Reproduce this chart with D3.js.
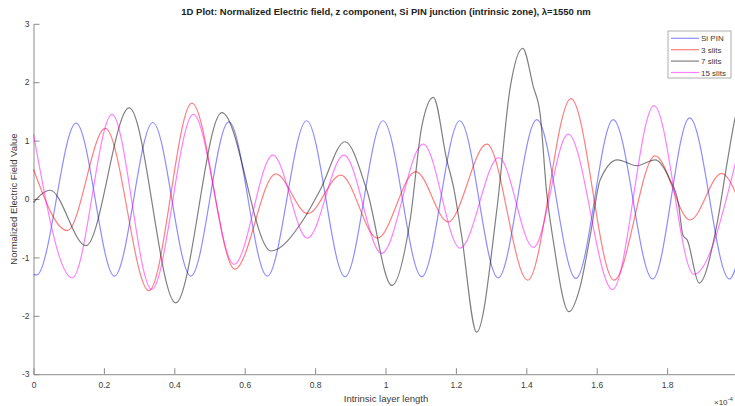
<!DOCTYPE html>
<html>
<head>
<meta charset="utf-8">
<script src="https://cdn.jsdelivr.net/npm/d3@7"></script>
<style>
  body { margin: 0; background: #fff; }
  svg { display: block; font-family: "Liberation Sans", Arial, sans-serif; }
</style>
</head>
<body>
<svg width="735" height="406"></svg>
<script>
// x values are in units of 1e-4 (axis shows x10^-4)
const siX = [0, 0.009, 0.121, 0.230, 0.339, 0.447, 0.555, 0.664, 0.776, 0.885, 0.993, 1.103, 1.211, 1.320, 1.430, 1.541, 1.647, 1.759, 1.864, 1.977, 2.0];
const siY = [-1.29, -1.30, 1.30, -1.32, 1.31, -1.32, 1.32, -1.32, 1.34, -1.33, 1.34, -1.33, 1.34, -1.35, 1.36, -1.36, 1.36, -1.37, 1.39, -1.37, -1.08];

const slit3X = [0, 0.096, 0.204, 0.328, 0.450, 0.572, 0.688, 0.779, 0.873, 0.977, 1.086, 1.178, 1.288, 1.404, 1.527, 1.649, 1.766, 1.865, 1.955, 2.0];
const slit3Y = [0.51, -0.54, 1.21, -1.57, 1.64, -1.20, 0.43, -0.25, 0.41, -0.67, 0.47, -0.39, 0.94, -1.39, 1.72, -1.39, 0.74, -0.36, 0.44, 0.03];

const slit7X = [0, 0.047, 0.149, 0.272, 0.404, 0.535, 0.675, 0.766, 0.814, 0.885, 0.947, 1.018, 1.070, 1.103, 1.136, 1.174, 1.193, 1.216, 1.259, 1.316, 1.354, 1.390, 1.420, 1.439, 1.458, 1.477, 1.521, 1.553, 1.581, 1.610, 1.659, 1.714, 1.766, 1.808, 1.832, 1.845, 1.857, 1.891, 1.941, 1.970, 1.993, 2.0];
const slit7Y = [-0.06, 0.15, -0.80, 1.56, -1.78, 1.48, -0.89, -0.36, 0.15, 0.98, 0.15, -1.48, -0.36, 1.24, 1.74, 0.67, 0.21, -0.62, -2.28, -0.20, 1.90, 2.58, 1.92, 1.47, 0.10, -0.73, -1.93, -1.50, -0.65, 0.33, 0.67, 0.57, 0.67, 0.33, -0.07, -0.62, -0.70, -1.44, -0.45, 0.60, 1.38, 1.55];

const slit15X = [0, 0.110, 0.223, 0.336, 0.454, 0.570, 0.680, 0.778, 0.882, 0.989, 1.107, 1.212, 1.322, 1.420, 1.519, 1.645, 1.763, 1.876, 2.0];
const slit15Y = [1.11, -1.35, 1.45, -1.55, 1.45, -1.12, 0.75, -0.67, 0.75, -0.93, 0.94, -0.84, 0.71, -0.83, 1.11, -1.55, 1.60, -1.29, 0.76];

const seriesNames = ['Si PIN', '3 slits', '7 slits', '15 slits'];
const seriesColors = ['rgba(0,0,255,0.45)', 'rgba(255,0,0,0.5)', 'rgba(0,0,0,0.5)', 'rgba(255,0,255,0.5)'];
const xTicks = [0, 0.2, 0.4, 0.6, 0.8, 1, 1.2, 1.4, 1.6, 1.8];
const yTicks = [-3, -2, -1, 0, 1, 2, 3];

const seriesData = [[siX, siY], [slit3X, slit3Y], [slit7X, slit7Y], [slit15X, slit15Y]]
  .map(([xs, ys]) => xs.map((x, i) => ({x: x, y: ys[i]})));

const plotLeft = 33.5, plotRight = 737.5, plotTop = 23.8, plotBottom = 374.2;

const xScale = d3.scaleLinear().domain([0, 2]).range([plotLeft, plotRight]);
const yScale = d3.scaleLinear().domain([-3, 3]).range([plotBottom, plotTop]);

const svg = d3.select('svg');
const axisColor = '#8c8c8c';
const textColor = '#3a3a3a';

// axes (MATLAB style: ticks inside, no box)
const xAxis = svg.append('g')
  .attr('transform', `translate(0,${plotBottom})`)
  .call(d3.axisBottom(xScale).tickValues(xTicks).tickSizeInner(-6).tickSizeOuter(0).tickPadding(8).tickFormat(d => String(d)));
const yAxis = svg.append('g')
  .attr('transform', `translate(${plotLeft},0)`)
  .call(d3.axisLeft(yScale).tickValues(yTicks).tickSizeInner(-6).tickSizeOuter(0).tickPadding(4).tickFormat(d => String(d)));

[xAxis, yAxis].forEach(g => {
  g.select('.domain').attr('stroke', axisColor);
  g.selectAll('.tick line').attr('stroke', axisColor);
  g.selectAll('.tick text').attr('fill', textColor).style('font-size', '8.5px');
});

const line = d3.line()
  .x(d => xScale(d.x))
  .y(d => yScale(d.y))
  .curve(d3.curveMonotoneX);

svg.append('g')
  .selectAll('path')
  .data(seriesData)
  .enter()
  .append('path')
  .attr('d', line)
  .attr('fill', 'none')
  .attr('stroke', (d, i) => seriesColors[i])
  .attr('stroke-width', 1.2);

// title and labels
svg.append('text')
  .attr('x', 386).attr('y', 15)
  .attr('text-anchor', 'middle')
  .style('font-size', '9.5px').style('font-weight', 'bold')
  .attr('fill', '#222')
  .text('1D Plot: Normalized Electric field, z component, Si PIN junction (intrinsic zone), \u03BB=1550 nm');

svg.append('text')
  .attr('x', 386).attr('y', 402)
  .attr('text-anchor', 'middle')
  .style('font-size', '9.5px')
  .attr('fill', textColor)
  .text('Intrinsic layer length');

svg.append('text')
  .attr('transform', `translate(17,${(plotTop + plotBottom) / 2}) rotate(-90)`)
  .attr('text-anchor', 'middle')
  .style('font-size', '9.5px')
  .attr('fill', textColor)
  .text('Normalized Electric Field Value');

const expo = svg.append('text')
  .attr('x', 714).attr('y', 405)
  .style('font-size', '8px')
  .attr('fill', textColor);
expo.append('tspan').text('\u00D710');
expo.append('tspan').attr('dy', -4).style('font-size', '6px').text('-4');

// legend
const legend = svg.append('g').attr('transform', 'translate(668,31)');
legend.append('rect')
  .attr('width', 63).attr('height', 47)
  .attr('fill', '#fff').attr('stroke', '#999').attr('stroke-width', 0.8);
const items = legend.selectAll('.item')
  .data(seriesNames)
  .enter()
  .append('g')
  .attr('transform', (d, i) => `translate(0,${7.3 + i * 11.4})`);
items.append('line')
  .attr('x1', 3).attr('x2', 31)
  .attr('stroke', (d, i) => seriesColors[i]).attr('stroke-width', 1.2);
items.append('text')
  .attr('x', 33).attr('y', 3)
  .style('font-size', '8px')
  .attr('fill', textColor)
  .text(d => d);
</script>
</body>
</html>
